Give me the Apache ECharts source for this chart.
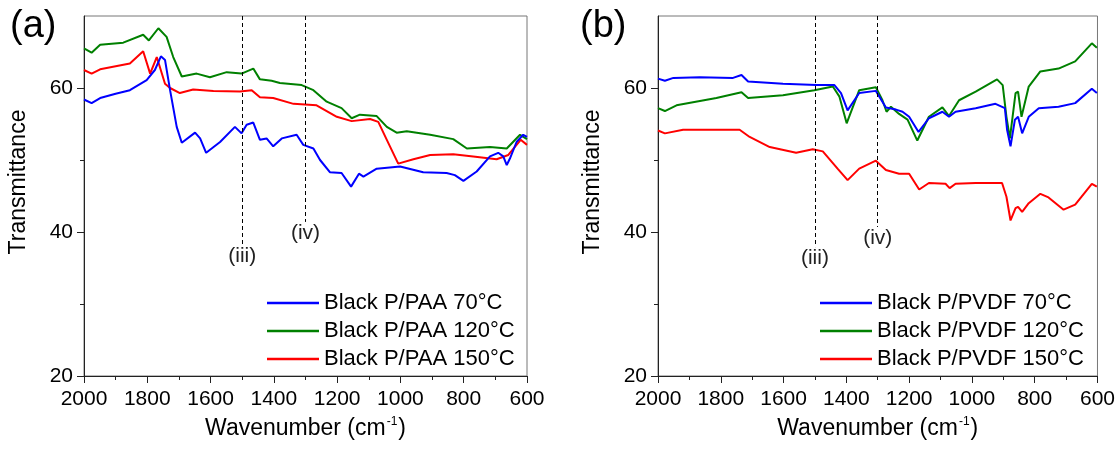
<!DOCTYPE html>
<html>
<head>
<meta charset="utf-8">
<style>
  html, body { margin: 0; padding: 0; background: #fff; }
  #chart { width: 1118px; height: 449px; }
</style>
<script src="https://cdn.jsdelivr.net/npm/echarts@6/dist/echarts.min.js"></script>
</head>
<body>
<div id="chart"></div>
<script>
// FTIR spectra, wavenumber (cm-1) vs transmittance
const xTicks = [2000, 1800, 1600, 1400, 1200, 1000, 800, 600];
const yTicks = [20, 40, 60];
const yMinorTicks = [30, 50];

// (a) Black P/PAA
const paa70Wn = [2000, 1976, 1949, 1900, 1855, 1802, 1776, 1757, 1744, 1728, 1707, 1691, 1649, 1633, 1614, 1570, 1523, 1502, 1486, 1465, 1444, 1423, 1402, 1375, 1328, 1307, 1275, 1254, 1223, 1186, 1156, 1131, 1117, 1075, 1001, 928, 854, 828, 801, 759, 717, 691, 675, 664, 654, 633, 612, 600];
const paa70T  = [58.4, 57.9, 58.6, 59.2, 59.7, 61.1, 62.5, 64.4, 63.9, 59.7, 54.6, 52.4, 53.8, 53.0, 51.0, 52.5, 54.6, 53.7, 54.9, 55.2, 52.8, 53.0, 51.9, 53.0, 53.5, 52.1, 51.6, 50.0, 48.3, 48.2, 46.3, 48.1, 47.7, 48.8, 49.1, 48.3, 48.2, 47.9, 47.1, 48.4, 50.5, 51.0, 50.5, 49.3, 50.2, 52.5, 53.5, 53.2];

const paa120Wn = [2000, 1976, 1949, 1876, 1813, 1795, 1765, 1739, 1718, 1691, 1644, 1602, 1549, 1502, 1465, 1444, 1407, 1381, 1312, 1275, 1233, 1186, 1154, 1128, 1075, 1043, 1012, 980, 906, 833, 790, 717, 664, 622, 600];
const paa120T  = [65.5, 64.9, 66.0, 66.3, 67.4, 66.6, 68.3, 67.1, 64.3, 61.6, 62.0, 61.5, 62.2, 62.0, 62.7, 61.2, 61.0, 60.7, 60.4, 59.7, 58.1, 57.2, 55.8, 56.3, 56.1, 54.6, 53.8, 54.0, 53.5, 52.9, 51.6, 51.8, 51.6, 53.5, 52.9];

const paa150Wn = [2000, 1976, 1949, 1855, 1813, 1791, 1770, 1744, 1728, 1697, 1655, 1591, 1507, 1470, 1444, 1402, 1338, 1265, 1201, 1154, 1096, 1070, 1043, 1007, 959, 906, 833, 770, 696, 659, 620, 600];
const paa150T  = [62.5, 62.0, 62.6, 63.4, 65.1, 62.0, 64.3, 60.6, 60.0, 59.3, 59.8, 59.6, 59.5, 59.7, 58.7, 58.6, 57.8, 57.6, 56.0, 55.4, 55.7, 55.3, 52.8, 49.5, 50.1, 50.7, 50.8, 50.5, 50.1, 50.7, 52.8, 52.1];

// (b) Black P/PVDF
const pvdf70Wn = [2000, 1978, 1951, 1867, 1761, 1734, 1713, 1602, 1496, 1438, 1417, 1396, 1359, 1306, 1274, 1242, 1221, 1200, 1170, 1137, 1094, 1073, 1052, 988, 925, 895, 888, 877, 863, 853, 840, 819, 787, 724, 671, 618, 602];
const pvdf70T  = [61.3, 61.0, 61.4, 61.5, 61.4, 61.8, 60.9, 60.6, 60.4, 60.4, 59.3, 56.9, 59.3, 59.6, 57.3, 57.0, 56.7, 56.0, 53.9, 55.8, 56.7, 56.0, 56.7, 57.2, 57.8, 57.2, 54.2, 51.9, 55.6, 56.0, 53.7, 56.0, 57.2, 57.4, 57.9, 59.9, 59.3];

const pvdf120Wn = [2000, 1978, 1941, 1814, 1734, 1713, 1602, 1502, 1443, 1422, 1399, 1359, 1306, 1285, 1272, 1258, 1232, 1205, 1174, 1137, 1094, 1073, 1041, 988, 920, 902, 890, 879, 861, 853, 842, 819, 782, 724, 671, 618, 602];
const pvdf120T  = [57.2, 56.8, 57.6, 58.6, 59.4, 58.6, 59.0, 59.7, 60.2, 58.8, 55.1, 59.7, 60.1, 58.3, 56.7, 57.4, 56.4, 55.6, 52.7, 56.0, 57.3, 56.1, 58.3, 59.5, 61.2, 60.4, 56.0, 53.0, 59.3, 59.5, 56.0, 60.2, 62.3, 62.7, 63.7, 66.2, 65.6];

const pvdf150Wn = [2000, 1978, 1920, 1740, 1708, 1644, 1560, 1507, 1475, 1428, 1396, 1359, 1306, 1274, 1232, 1200, 1168, 1137, 1084, 1071, 1052, 988, 904, 890, 877, 861, 853, 840, 819, 782, 756, 708, 671, 618, 602];
const pvdf150T  = [54.1, 53.7, 54.2, 54.2, 53.2, 51.8, 51.0, 51.5, 51.2, 48.8, 47.2, 48.8, 49.9, 48.6, 48.1, 48.1, 45.9, 46.8, 46.7, 46.1, 46.7, 46.8, 46.8, 44.9, 41.6, 43.3, 43.5, 42.8, 44.0, 45.3, 44.8, 43.1, 43.8, 46.7, 46.3];

const paaNames  = ['Black P/PAA 70°C', 'Black P/PAA 120°C', 'Black P/PAA 150°C'];
const pvdfNames = ['Black P/PVDF 70°C', 'Black P/PVDF 120°C', 'Black P/PVDF 150°C'];
const bandNames = ['(iii)', '(iv)'];
const bandWn    = [1500, 1300];

const COLORS = ['#0000ff', '#008000', '#ff0000'];
const FONT = '"Liberation Sans", Arial, sans-serif';
const AXIS_COLOR = '#222';

const zip = (xs, ys) => xs.map((x, i) => [x, ys[i]]);

function xAxisFor(idx) {
  return {
    type: 'value', gridIndex: idx, inverse: true,
    min: xTicks[xTicks.length - 1], max: xTicks[0], interval: 200,
    axisLine: { show: true, onZero: false, lineStyle: { color: AXIS_COLOR, width: 1 } },
    axisTick: { show: true, inside: false, length: 7, lineStyle: { color: AXIS_COLOR } },
    minorTick: { show: true, splitNumber: 2, length: 4, lineStyle: { color: AXIS_COLOR } },
    splitLine: { show: false },
    axisLabel: {
      color: '#000', fontSize: 21, fontFamily: FONT, margin: 13,
      formatter: v => String(v)
    },
    name: 'Wavenumber (cm{sup|-1})',
    nameLocation: 'middle', nameGap: 40,
    nameTextStyle: {
      color: '#000', fontSize: 23, fontFamily: FONT,
      rich: { sup: { fontSize: 12, fontFamily: FONT, color: '#000', verticalAlign: 'top', padding: [0, 1, 13, 1] } }
    }
  };
}

function yAxisFor(idx) {
  return {
    type: 'value', gridIndex: idx,
    min: yTicks[0], max: 70, interval: yTicks[1] - yTicks[0],
    axisLine: { show: true, onZero: false, lineStyle: { color: AXIS_COLOR, width: 1 } },
    axisTick: { show: true, inside: false, length: 7, customValues: yTicks, lineStyle: { color: AXIS_COLOR } },
    minorTick: { show: false },
    splitLine: { show: false },
    axisLabel: { color: '#000', fontSize: 21, fontFamily: FONT, margin: 11, customValues: yTicks },
    name: 'Transmittance',
    nameLocation: 'middle', nameGap: 54,
    nameTextStyle: { color: '#000', fontSize: 23, fontFamily: FONT, padding: [0, 0, 0, 28] }
  };
}

// companion axis carrying only the short minor ticks of the transmittance scale
function yMinorAxisFor(idx) {
  return {
    type: 'value', gridIndex: idx, position: 'left',
    min: yTicks[0], max: 70, interval: 10,
    axisLine: { show: false },
    axisTick: { show: true, inside: false, length: 4, customValues: yMinorTicks, lineStyle: { color: AXIS_COLOR } },
    axisLabel: { show: false },
    splitLine: { show: false }
  };
}

function bandMarks(ends) {
  return {
    silent: true,
    symbol: ['none', 'none'],
    lineStyle: { color: '#000', type: [4, 3], width: 1 },
    label: {
      show: true, position: 'end', distance: 1, formatter: '{b}',
      color: '#222', fontSize: 21, fontFamily: FONT
    },
    data: bandWn.map((wn, i) => [
      { name: bandNames[i], coord: [wn, 70] },
      { coord: [wn, ends[i]] }
    ])
  };
}

function lineSeries(name, xs, ys, k, idx, marks) {
  const s = {
    name, type: 'line', xAxisIndex: idx, yAxisIndex: idx,
    data: zip(xs, ys), showSymbol: false, symbol: 'none',
    lineStyle: { color: COLORS[k], width: 2 },
    itemStyle: { color: COLORS[k] },
    z: 3 - k
  };
  if (marks) s.markLine = marks;
  return s;
}

const legendCommon = {
  orient: 'vertical', top: 292, padding: 0, itemWidth: 52, itemHeight: 22, itemGap: 6,
  icon: 'path://M0,10 L52,10 L52,12.5 L0,12.5 Z',
  textStyle: { color: '#000', fontSize: 22, fontFamily: FONT, lineHeight: 22 },
  selectedMode: false
};

const option = {
  animation: false,
  backgroundColor: '#fff',
  grid: [
    { left: 84, top: 16, width: 443, height: 360, show: true, borderColor: '#777', borderWidth: 1, backgroundColor: 'transparent' },
    { left: 658, top: 16, width: 441, height: 360, show: true, borderColor: '#777', borderWidth: 1, backgroundColor: 'transparent' }
  ],
  xAxis: [xAxisFor(0), xAxisFor(1)],
  yAxis: [yAxisFor(0), yAxisFor(1), yMinorAxisFor(0), yMinorAxisFor(1)],
  legend: [
    Object.assign({}, legendCommon, { left: 267, data: paaNames }),
    Object.assign({}, legendCommon, { left: 820, data: pvdfNames })
  ],
  graphic: [
    { type: 'text', left: 10, top: 8, style: { text: '(a)', fontSize: 38, fontFamily: FONT, fill: '#000' } },
    { type: 'text', left: 580, top: 8, style: { text: '(b)', fontSize: 38, fontFamily: FONT, fill: '#000' } }
  ],
  series: [
    lineSeries(paaNames[0], paa70Wn, paa70T, 0, 0, bandMarks([38.2, 41.4])),
    lineSeries(paaNames[1], paa120Wn, paa120T, 1, 0),
    lineSeries(paaNames[2], paa150Wn, paa150T, 2, 0),
    lineSeries(pvdfNames[0], pvdf70Wn, pvdf70T, 0, 1, bandMarks([37.9, 40.7])),
    lineSeries(pvdfNames[1], pvdf120Wn, pvdf120T, 1, 1),
    lineSeries(pvdfNames[2], pvdf150Wn, pvdf150T, 2, 1)
  ]
};

const chart = echarts.init(document.getElementById('chart'), null, { renderer: 'canvas' });
chart.setOption(option);
</script>
</body>
</html>
